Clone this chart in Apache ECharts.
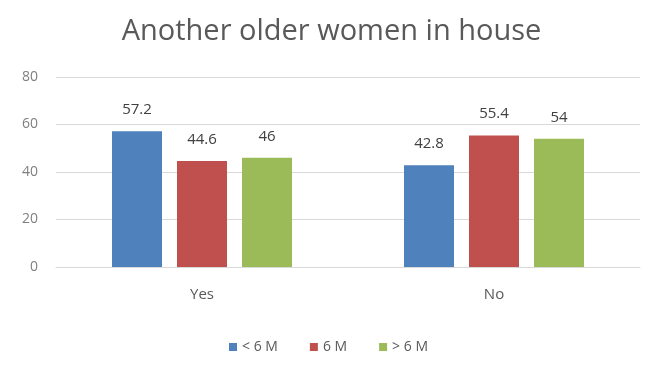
<!DOCTYPE html>
<html>
<head>
<meta charset="utf-8">
<script src="https://cdn.jsdelivr.net/npm/echarts@6/dist/echarts.min.js"></script>
<style>
  html, body { margin: 0; padding: 0; background: #fff; }
  #chart { width: 663px; height: 370px; }
</style>
</head>
<body>
<div id="chart"></div>
<script>
// Share with another older woman in the house, by age group
const categories = ['Yes', 'No'];
const seriesNames = ['< 6 M', '6 M', '> 6 M'];
const lessThan6M = [57.2, 42.8];
const at6M = [44.6, 55.4];
const moreThan6M = [46, 54];
const yTicks = [0, 20, 40, 60, 80];

const colors = ['#4F81BD', '#C0504D', '#9BBB59'];
const values = [lessThan6M, at6M, moreThan6M];

const chart = echarts.init(document.getElementById('chart'));
chart.setOption({
  animation: false,
  title: {
    text: 'Another older women in house',
    left: 'center',
    top: 12,
    textStyle: { fontFamily: 'Open Sans', fontSize: 29, fontWeight: 'normal', color: '#595959' }
  },
  legend: {
    data: seriesNames,
    top: 335,
    left: 224,
    itemWidth: 8,
    itemHeight: 8,
    itemGap: 32,
    icon: 'rect',
    textStyle: { fontFamily: 'Open Sans', fontSize: 14, color: '#595959' }
  },
  grid: { left: 56, right: 23, top: 77, bottom: 103 },
  xAxis: {
    type: 'category',
    data: categories,
    axisLine: { lineStyle: { color: '#d9d9d9' } },
    axisTick: { show: false },
    axisLabel: { fontFamily: 'Open Sans', fontSize: 15, color: '#595959', margin: 20 }
  },
  yAxis: {
    type: 'value',
    min: yTicks[0],
    max: yTicks[yTicks.length - 1],
    interval: 20,
    axisLine: { show: false },
    axisTick: { show: false },
    splitLine: { lineStyle: { color: '#d9d9d9' } },
    axisLabel: { fontFamily: 'Open Sans', fontSize: 14, color: '#7f7f7f', margin: 18 }
  },
  series: seriesNames.map((name, i) => ({
    name: name,
    type: 'bar',
    data: values[i],
    barWidth: 50,
    barGap: '30%',
    itemStyle: { color: colors[i] },
    label: {
      show: true,
      position: 'top',
      distance: 14,
      fontFamily: 'Open Sans',
      fontSize: 15,
      color: '#404040'
    }
  }))
});
</script>
</body>
</html>
